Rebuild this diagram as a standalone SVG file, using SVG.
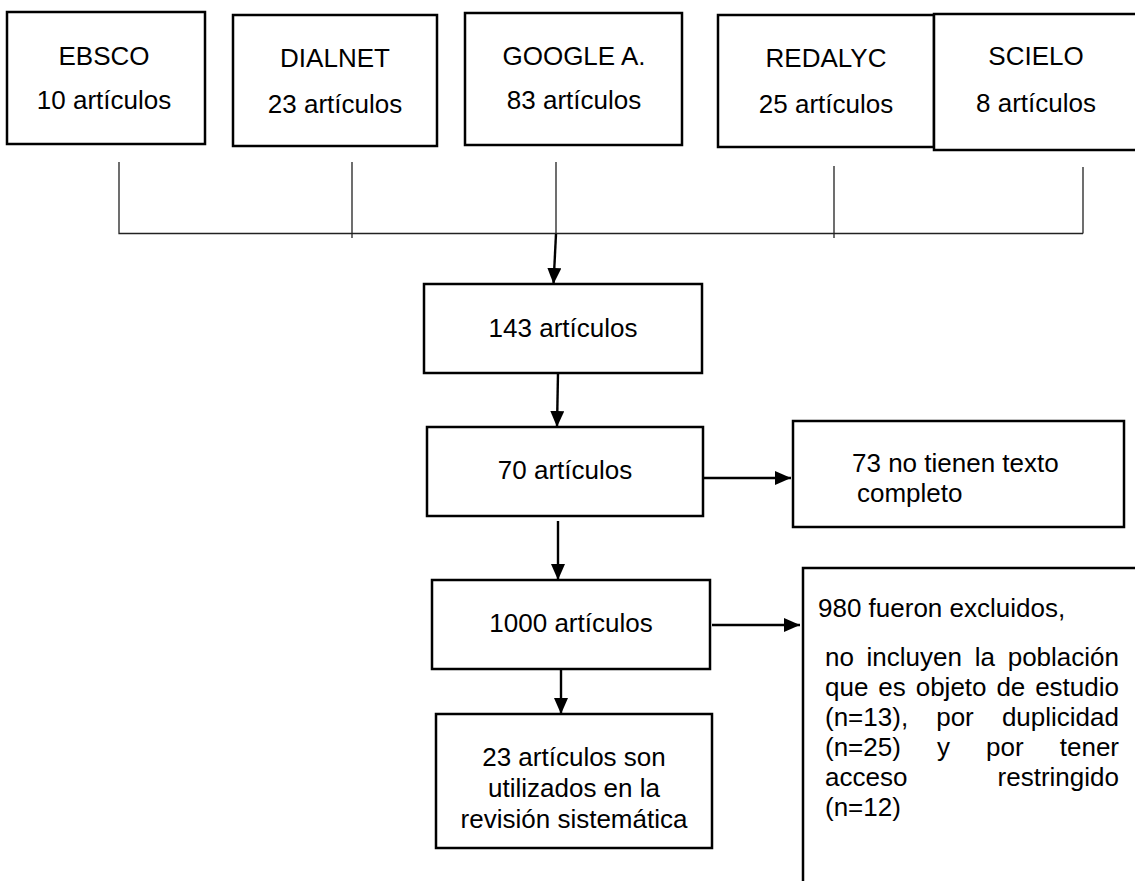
<svg xmlns="http://www.w3.org/2000/svg" width="1135" height="881" viewBox="0 0 1135 881">
<style>
.box{fill:#fff;stroke:#000;stroke-width:2.5}
.t{font-family:"Liberation Sans",Arial,sans-serif;font-size:26px;fill:#000}
.c{text-anchor:middle}
.e{text-anchor:end}
.thin{stroke:#222;stroke-width:1.3;fill:none}
.arr{stroke:#000;stroke-width:2.4;fill:none;marker-end:url(#ah)}
</style>
<defs>
<marker id="ah" viewBox="0 0 16 14" refX="16" refY="7" markerUnits="userSpaceOnUse" markerWidth="16" markerHeight="14" orient="auto">
<path d="M0,0 L16,7 L0,14 Z" fill="#000"/>
</marker>
</defs>
<rect width="1135" height="881" fill="#fff"/>
<g id="ebsco"><rect class="box" x="7" y="12" width="198" height="132"/><text class="t c" x="104" y="65">EBSCO</text><text class="t c" x="104" y="109">10 artículos</text></g>
<g id="dialnet"><rect class="box" x="233" y="15" width="204" height="131"/><text class="t c" x="335" y="67">DIALNET</text><text class="t c" x="335" y="113">23 artículos</text></g>
<g id="google"><rect class="box" x="465" y="13" width="217" height="132"/><text class="t c" x="574" y="65">GOOGLE A.</text><text class="t c" x="574" y="109">83 artículos</text></g>
<g id="redalyc"><rect class="box" x="718" y="15" width="216" height="132"/><text class="t c" x="826" y="67">REDALYC</text><text class="t c" x="826" y="113">25 artículos</text></g>
<g id="scielo"><rect class="box" x="934" y="14" width="210" height="136"/><text class="t c" x="1036" y="65">SCIELO</text><text class="t c" x="1036" y="112">8 artículos</text></g>
<g id="n143"><rect class="box" x="424" y="284" width="278" height="89"/><text class="t c" x="563" y="337">143 artículos</text></g>
<g id="n70"><rect class="box" x="427" y="427" width="276" height="89"/><text class="t c" x="565" y="479">70 artículos</text></g>
<g id="n73"><rect class="box" x="793" y="421" width="331" height="106"/><text class="t" x="852" y="472">73 no tienen texto</text><text class="t" x="857" y="502">completo</text></g>
<g id="n1000"><rect class="box" x="432" y="580" width="278" height="89"/><text class="t c" x="571" y="632">1000 artículos</text></g>
<g id="n23"><rect class="box" x="436" y="714" width="276" height="134"/><text class="t c" x="574" y="766">23 artículos son</text><text class="t c" x="574" y="797">utilizados en la</text><text class="t c" x="574" y="828">revisión sistemática</text></g>
<g id="n980"><rect class="box" x="803" y="568" width="340" height="330"/>
<text class="t" x="818" y="617">980 fueron excluidos,</text>
<text class="t" y="666"><tspan x="825">no</tspan><tspan x="866.6">incluyen</tspan><tspan x="974.7">la</tspan></text><text class="t e" x="1119" y="666">población</text>
<text class="t" y="696"><tspan x="825">que</tspan><tspan x="878.3">es</tspan><tspan x="915.7">objeto</tspan><tspan x="996.4">de</tspan></text><text class="t e" x="1119" y="696">estudio</text>
<text class="t" y="726"><tspan x="825">(n=13),</tspan><tspan x="936.2">por</tspan></text><text class="t e" x="1119" y="726">duplicidad</text>
<text class="t" y="756"><tspan x="825">(n=25)</tspan><tspan x="937">y</tspan><tspan x="986.1">por</tspan></text><text class="t e" x="1119" y="756">tener</text>
<text class="t" x="825" y="786">acceso</text><text class="t e" x="1119" y="786">restringido</text>
<text class="t" x="825" y="816">(n=12)</text>
</g>
<g id="connectors">
<path class="thin" d="M119,162 V233.5 H1083 M352,162 V238 M556,162 V233.5 M834,166 V238 M1083,167 V233.5"/>
<path class="arr" d="M556,234 L553.5,284"/>
<path class="arr" d="M558,373 L557,427"/>
<path class="arr" d="M558,521 L558,580"/>
<path class="arr" d="M561,669 L561,714"/>
<path class="arr" d="M703,478 L791,478"/>
<path class="arr" d="M712,625 L800,625"/>
</g>
</svg>
